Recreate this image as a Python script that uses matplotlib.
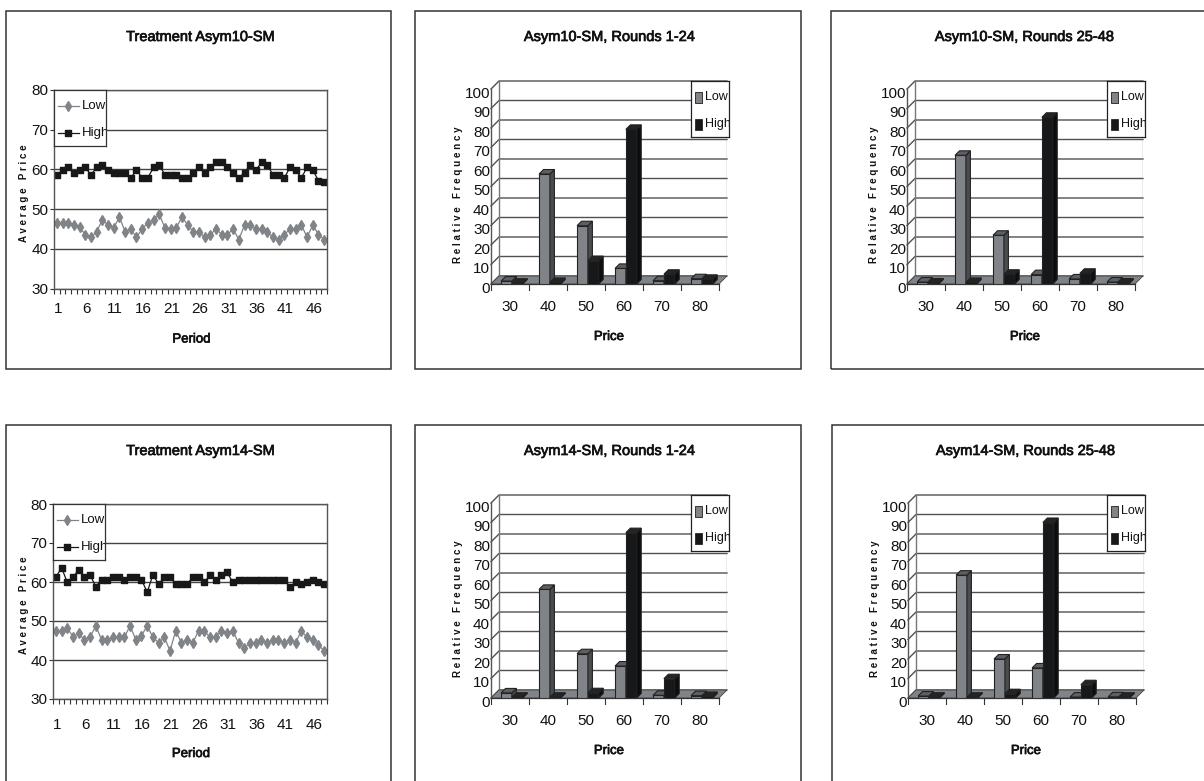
import matplotlib
matplotlib.use('Agg')
import matplotlib.pyplot as plt
import matplotlib.patheffects as pe
from matplotlib.patches import Polygon, Rectangle

W, H = 1204, 781

plt.rcParams['font.family'] = ['Liberation Sans', 'DejaVu Sans']

low_10 = [46.6, 46.6, 46.6, 46, 45.4, 43.6, 42.9, 44.3, 47.3, 46, 45.3, 48, 44.3, 45, 42.9, 45,
          46.6, 47.3, 48.7, 45.3, 45, 45.3, 48, 46, 44.3, 44.3, 42.9, 43.6, 45, 43.6, 43.6, 45,
          42.3, 46, 46, 45, 45, 44.3, 42.9, 42.3, 43.6, 45, 45, 46, 42.9, 46, 43.6, 42.3]
high_10 = [58.6, 59.8, 60.5, 59.2, 59.8, 60.5, 58.6, 60.5, 61.2, 59.8, 59.2, 59.2, 59.2, 57.9, 59.8, 57.9,
           57.9, 60.5, 61.2, 58.6, 58.6, 58.6, 57.9, 57.9, 59.2, 60.5, 59.2, 60.5, 61.8, 61.8, 60.5, 59.2,
           57.9, 59.2, 61.2, 59.8, 61.8, 61.2, 58.6, 58.6, 57.9, 60.5, 59.8, 57.9, 60.5, 59.8, 57.2, 56.9]
low_14 = [47.5, 47.5, 48.2, 46, 46.8, 45.2, 45.8, 48.8, 45.2, 45.2, 45.8, 46, 45.8, 48.8, 45.2, 46.2,
          48.8, 45.8, 44.4, 45.8, 42.4, 47.5, 44.4, 45.2, 44.4, 47.5, 47.5, 45.8, 46, 47.5, 46.8, 47.5,
          44.4, 43.1, 44.4, 44.4, 45.2, 44.4, 45.2, 45.2, 44.4, 45.2, 44.4, 47.5, 45.8, 45.2, 43.8, 42.4]
high_14 = [61.2, 63.7, 59.9, 61.2, 63.2, 61.2, 61.8, 58.8, 60.6, 60.6, 61.2, 61.2, 60.6, 61.2, 61.2, 60.6,
           57.4, 61.8, 59.5, 61.2, 61.2, 59.5, 59.5, 59.5, 61.2, 61.2, 59.9, 61.8, 60.6, 61.8, 62.5, 59.9,
           60.6, 60.6, 60.6, 60.6, 60.6, 60.6, 60.6, 60.6, 60.6, 58.8, 59.9, 59.5, 59.9, 60.6, 59.9, 59.5]

prices = ['30', '40', '50', '60', '70', '80']
low_10_early = [1.5, 56.4, 29.9, 8, 1.7, 2.7]
high_10_early = [0.4, 0.8, 12, 79.3, 5, 2.4]
low_10_late = [1, 66, 25, 4.8, 2.6, 1]
high_10_late = [0.5, 0.8, 5, 85.5, 5.5, 0.5]
low_14_early = [2.6, 55.7, 22.7, 16.4, 1.4, 1.2]
high_14_early = [0.4, 0.4, 2.7, 84.8, 9.9, 0.8]
low_14_late = [1, 63, 20, 15.4, 0.5, 0.6]
high_14_late = [0.4, 0.4, 2.2, 90, 6.8, 0.4]

GREY = '#808488'
DARK = '#16181a'
TEXT = '#111111'
TALL_SQUARE = [(-0.38, -0.5), (0.38, -0.5), (0.38, 0.5), (-0.38, 0.5), (-0.38, -0.5)]
BOLDISH = [pe.withStroke(linewidth=0.5, foreground=TEXT)]

fig = plt.figure(figsize=(W / 100, H / 100), dpi=100, facecolor='white')


def px_axes(x0, y0, x1, y1):
    # pixel box, y from the top of the image
    return fig.add_axes([x0 / W, 1 - y1 / H, (x1 - x0) / W, (y1 - y0) / H])


def frame(x0, y0, x1, y1):
    fig.add_artist(Rectangle((x0 / W, 1 - y1 / H), (x1 - x0) / W, (y1 - y0) / H,
                             transform=fig.transFigure, fill=False, ec='#333333', lw=1.1))


def ftext(x, y, s, **kw):
    return fig.text(x / W, 1 - y / H, s, ha='center', va='center', color=TEXT, **kw)


def line_panel(box, title, title_x, low, high, ax_box, tick_gap, label_gap):
    frame(*box)
    ftext(title_x, box[1] + 26, title, fontsize=10.5, path_effects=BOLDISH)
    ax = px_axes(*ax_box)
    x0, y0, x1, y1 = ax_box
    for s in ax.spines.values():
        s.set_color('#555555')
        s.set_linewidth(1.0)
    periods = list(range(1, 49))
    ax.set_xlim(0.5, 48.5)
    ax.set_ylim(30, 80)
    ax.set_yticks(range(30, 81, 10))
    ax.yaxis.grid(True, color='#444444', lw=1.0)
    ax.set_axisbelow(True)
    ax.set_xticks([p + 0.5 for p in range(0, 49)])
    ax.set_xticklabels([])
    ax.tick_params(axis='x', length=3.6, width=0.8, color='#333333', direction='out')
    ax.tick_params(axis='y', length=3, width=0.8, color='#333333', labelsize=11, pad=1, labelcolor=TEXT)
    for p in periods[::5]:
        ftext(x0 + (p - 0.5) * (x1 - x0) / 48 + 1, y1 + tick_gap, str(p), fontsize=11)
    ax.plot(periods, low, color=GREY, lw=0.9, marker='d', ms=5.2, mec=GREY, mfc=GREY)
    ax.plot(periods, high, color=DARK, lw=0.9, marker=TALL_SQUARE, ms=5, mec=DARK, mfc=DARK)
    # legend box drawn by hand because the reference clips its entries at the box edge
    lg = px_axes(x0, y0, x0 + 52, y0 + 56)
    lg.set_xticks([])
    lg.set_yticks([])
    for s in lg.spines.values():
        s.set_color('#333333')
        s.set_linewidth(0.9)
    lg.plot([4, 25], [16, 16], color=GREY, lw=0.9)
    lg.plot([14], [16], marker='d', ms=5.2, color=GREY)
    lg.plot([4, 25], [43, 43], color=DARK, lw=0.9)
    lg.plot([14], [43], marker=TALL_SQUARE, ms=5, color=DARK)
    lg.set_xlim(0, 52)
    lg.set_ylim(56, 0)
    lg.text(28, 16, 'Low', fontsize=9.5, va='center', color=TEXT, clip_on=True)
    lg.text(28, 43, 'High', fontsize=9.5, va='center', color=TEXT, clip_on=True)
    ftext(24, (y0 + y1) / 2 + 4, 'A v e r a g e   P r i c e', fontsize=7, fontweight='bold', rotation=90)
    ftext((x0 + x1) / 2 + 1, y1 + label_gap, 'Period', fontsize=9.5, path_effects=BOLDISH)


def bar_3d(ax, x, w, v, dx, dy, face, side, top):
    ax.add_patch(Rectangle((x, 0), w, v, fc=face, ec='#222222', lw=0.8, zorder=5))
    ax.add_patch(Polygon([(x + w, 0), (x + w + dx, dy), (x + w + dx, v + dy), (x + w, v)],
                         fc=side, ec='#222222', lw=0.8, zorder=5))
    ax.add_patch(Polygon([(x, v), (x + dx, v + dy), (x + w + dx, v + dy), (x + w, v)],
                         fc=top, ec='#222222', lw=0.8, zorder=5))


def bar_panel(box, title, title_x, low, high, x0, y_front, leg_x):
    frame(*box)
    ftext(title_x, box[1] + 26, title, fontsize=10.5, path_effects=BOLDISH)
    # front plane 228 px wide, 195 px tall; the wall sits 8 px back
    px_cat = 38.0
    px_val = 1.95
    wall_dx = 8 / px_cat
    wall_dy = 8 / px_val
    ax = px_axes(x0, y_front - 195 - 8, x0 + 228 + 8, y_front)
    ax.set_xlim(0, 6 + wall_dx)
    ax.set_ylim(0, 100 + wall_dy)
    ax.axis('off')
    for v in range(0, 101, 10):
        ax.plot([0, wall_dx, 6 + wall_dx], [v, v + wall_dy, v + wall_dy], color='#505050', lw=1.0, zorder=1,
                clip_on=False)
        ax.text(-1 / px_cat, v - 2.5, str(v), ha='right', va='center', fontsize=11, color=TEXT)
    ax.plot([0, 0], [0, 100], color='#555555', lw=1.0, clip_on=False)
    ax.plot([wall_dx, wall_dx], [wall_dy, 100 + wall_dy], color='#777777', lw=1.0)
    ax.plot([6 + wall_dx] * 2, [wall_dy, 100 + wall_dy], color='#999999', lw=1.0)
    ax.add_patch(Polygon([(0, 0), (wall_dx, wall_dy), (6 + wall_dx, wall_dy), (6, 0)], fc=GREY, ec='#444444',
                         lw=0.6, zorder=2))
    ax.plot([0, 6], [0, 0], color='#333333', lw=0.9, zorder=3, clip_on=False)
    for i, p in enumerate(prices):
        ax.plot([i, i], [0, -3], color='#333333', lw=0.8, clip_on=False)
        ax.text(i + 0.5, -11.8, p, ha='center', va='center', fontsize=11, color=TEXT)
    ax.plot([6, 6], [0, -3], color='#333333', lw=0.8, clip_on=False)
    dx = 4.5 / px_cat
    dy = 4.5 / px_val
    bw = 0.285
    for i, (a, b) in enumerate(zip(low, high)):
        left = i + 0.265
        bar_3d(ax, left, bw, a, dx, dy, GREY, '#4a4d50', '#5c6064')
        bar_3d(ax, left + bw, bw, b, dx, dy, DARK, '#0c0d0e', '#222426')
    ftext(x0 + 118, y_front + 53, 'Price', fontsize=9.5, path_effects=BOLDISH)
    ftext(x0 - 33, y_front - 89, 'R e l a t i v e   F r e q u e n c y', fontsize=7, fontweight='bold', rotation=90)
    lg = px_axes(leg_x, y_front - 203, leg_x + 38, y_front - 147)
    lg.set_xlim(0, 38)
    lg.set_ylim(56, 0)
    lg.set_xticks([])
    lg.set_yticks([])
    lg.set_zorder(10)
    for s in lg.spines.values():
        s.set_color('#222222')
        s.set_linewidth(0.9)
    lg.add_patch(Rectangle((4, 11), 7, 11, fc=GREY, ec='#333333', lw=0.7))
    lg.add_patch(Rectangle((4, 38), 7, 11, fc=DARK, ec='#333333', lw=0.7))
    lg.text(14, 16, 'Low', fontsize=9, va='center', color=TEXT, clip_on=True)
    lg.text(14, 43, 'High', fontsize=9, va='center', color=TEXT, clip_on=True)


line_panel((6, 11, 391, 369), 'Treatment Asym10-SM', 201, low_10, high_10, (54, 90, 327, 288.5), 20.5, 51)
line_panel((6, 425, 391, 785), 'Treatment Asym14-SM', 201, low_14, high_14, (53, 504, 327, 699), 26, 55)
bar_panel((415, 11, 801, 369), 'Asym10-SM, Rounds 1-24', 610, low_10_early, high_10_early, 491, 284, 691)
bar_panel((831, 11, 1208, 369), 'Asym10-SM, Rounds 25-48', 1025, low_10_late, high_10_late, 907, 284, 1107)
bar_panel((415, 425, 801, 785), 'Asym14-SM, Rounds 1-24', 610, low_14_early, high_14_early, 491, 698, 691)
bar_panel((832, 425, 1208, 785), 'Asym14-SM, Rounds 25-48', 1026, low_14_late, high_14_late, 908, 698, 1107)

fig.savefig('out.png', dpi=100)
